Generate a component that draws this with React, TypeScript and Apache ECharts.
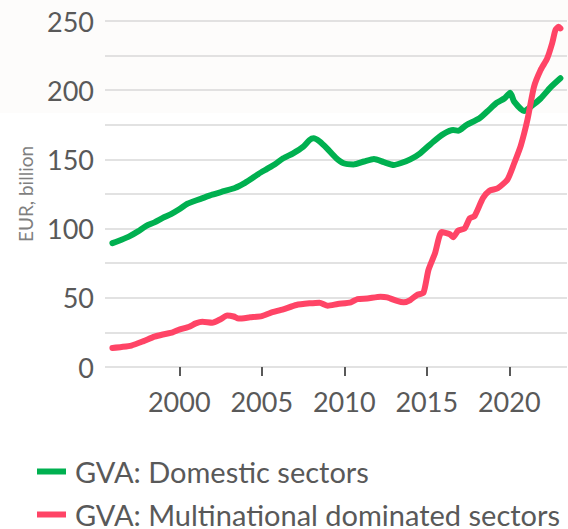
import React, { useEffect, useRef } from "react";
import * as echarts from "echarts";

const domesticYears = [
  1995.95, 1996.5, 1997.0, 1997.5, 1998.0, 1998.5, 1999.0, 1999.5, 2000.0, 2000.5,
  2000.8, 2001.3, 2002.0, 2002.7, 2003.4, 2003.9, 2004.3, 2004.8, 2005.3, 2005.8,
  2006.3, 2006.9, 2007.5, 2007.9, 2008.14, 2008.5, 2008.95, 2009.5, 2009.96, 2010.56,
  2011.2, 2011.8, 2012.4, 2013.0, 2013.4, 2014.0, 2014.6, 2015.4, 2016.0, 2016.6,
  2016.9, 2017.4, 2018.2, 2018.7, 2019.25, 2019.7, 2020.06, 2020.3, 2020.9, 2021.4,
  2021.9, 2022.5, 2023.1,
];
const domesticValues = [
  89.5, 92, 94.6, 98, 102, 104.5, 107.7, 110.5, 114, 118,
  119.4, 121.5, 124.5, 127, 129.5, 132.5, 135.5, 139.5, 143, 146.5,
  150.8, 154.4, 159, 164, 165.2, 163, 158, 151, 147.2, 146.4,
  148.5, 150.3, 148, 146, 147.2, 150, 154.4, 162.8, 168.3, 171.2,
  170.7, 174.8, 179.7, 185, 191, 194, 198.2, 191.7, 185, 189,
  194, 202, 208.6,
];

const mncYears = [
  1995.95, 1996.5, 1997.1, 1997.8, 1998.5, 1999.0, 1999.6, 2000.0, 2000.6, 2001.0,
  2001.4, 2002.0, 2002.5, 2002.9, 2003.3, 2003.6, 2004.3, 2005.0, 2005.5, 2006.3,
  2007.1, 2007.9, 2008.5, 2009.0, 2009.6, 2010.4, 2010.8, 2011.4, 2012.2, 2012.6,
  2013.2, 2013.6, 2014.0, 2014.4, 2014.8, 2015.1, 2015.5, 2015.9, 2016.4, 2016.6,
  2016.9, 2017.3, 2017.6, 2017.9, 2018.4, 2018.8, 2019.3, 2019.9, 2020.3, 2020.7,
  2021.1, 2021.5, 2021.9, 2022.3, 2022.6, 2022.8, 2023.0, 2023.1,
];
const mncValues = [
  13.8, 14.5, 15.5, 18.5, 21.9, 23.5, 25, 27, 29.1, 31.5,
  32.7, 32, 34.5, 37.2, 36.5, 35, 35.9, 36.8, 39, 41.7,
  44.8, 46, 46.5, 44.3, 45.5, 46.7, 49.1, 49.5, 50.8, 50.3,
  47.7, 46.7, 48.4, 52, 53.7, 70, 82.2, 97.5, 95.9, 93.7,
  98.5, 100.2, 107.4, 109.1, 121.9, 127.4, 129.1, 135.6, 147.2, 160,
  178.5, 202.5, 214.6, 223, 233.9, 243.5, 245.9, 244.7,
];

const xTickYears = [2000, 2005, 2010, 2015, 2020];
const seriesNames = ["GVA: Domestic sectors", "GVA: Multinational dominated sectors"];
const yAxisName = "EUR, billion";

const FONT = "Lato, 'Open Sans', sans-serif";
const GREY = "#595959";
const GREEN = "#00B050";
const RED = "#FF4466";

export default function App() {
  const ref = useRef<HTMLDivElement>(null);

  useEffect(() => {
    if (!ref.current) return;
    const chart = echarts.init(ref.current, undefined, { renderer: "svg" });
    const domData = domesticYears.map((y, i) => [y, domesticValues[i]]);
    const mncData = mncYears.map((y, i) => [y, mncValues[i]]);
    const legendBase = {
      orient: "vertical",
      left: 37,
      padding: 0,
      itemWidth: 29,
      itemHeight: 6,
      icon: "rect",
      textStyle: {
        fontSize: 29,
        color: GREY,
        fontFamily: FONT,
        lineHeight: 27,
        padding: [0, 0, 0, 4],
      },
    };
    chart.setOption({
      animation: false,
      backgroundColor: "#ffffff",
      graphic: [
        {
          type: "rect",
          z: -10,
          silent: true,
          shape: { x: 0, y: 0, width: 568, height: 113 },
          style: { fill: "#fdfcfb" },
        },
      ],
      grid: { left: 105, right: 1, top: 21, bottom: 162, containLabel: false },
      legend: [
        { ...legendBase, top: 457, data: [seriesNames[0]] },
        { ...legendBase, top: 500, data: [seriesNames[1]] },
      ],
      xAxis: {
        type: "value",
        min: 1995.5,
        max: 2023.5,
        offset: 3,
        splitLine: { show: false },
        axisLine: { show: false },
        axisTick: {
          show: true,
          customValues: xTickYears,
          length: 9,
          lineStyle: { color: GREY, width: 2 },
        },
        axisLabel: {
          customValues: xTickYears,
          fontSize: 27,
          color: GREY,
          fontFamily: FONT,
          margin: 18,
          formatter: (v: number) => String(Math.round(v)),
        },
      },
      yAxis: {
        type: "value",
        min: 0,
        max: 250,
        interval: 25,
        name: yAxisName,
        nameLocation: "middle",
        nameGap: 70,
        nameTextStyle: { fontSize: 19, color: "#7f7f7f", fontFamily: FONT },
        axisLine: { show: false },
        axisTick: { show: false },
        splitLine: { lineStyle: { color: "#d9d9d9", width: 1.5 } },
        axisLabel: {
          fontSize: 27,
          color: GREY,
          fontFamily: FONT,
          margin: 11,
          formatter: (v: number) => (v % 50 === 0 ? String(v) : ""),
        },
      },
      series: [
        {
          name: seriesNames[0],
          type: "line",
          data: domData,
          showSymbol: false,
          smooth: 0.2,
          lineStyle: { color: GREEN, width: 6, cap: "round", join: "round" },
          itemStyle: { color: GREEN },
        },
        {
          name: seriesNames[1],
          type: "line",
          data: mncData,
          showSymbol: false,
          smooth: 0.2,
          lineStyle: { color: RED, width: 6, cap: "round", join: "round" },
          itemStyle: { color: RED },
        },
      ],
    });
    return () => chart.dispose();
  }, []);

  return (
    <div
      ref={ref}
      style={{ position: "fixed", left: 0, top: 0, width: 568, height: 529 }}
    />
  );
}
